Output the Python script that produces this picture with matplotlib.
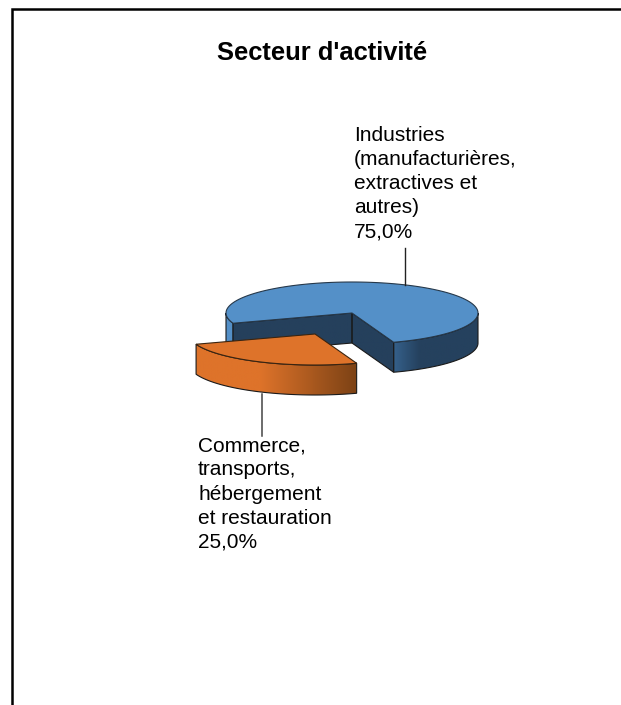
import matplotlib
matplotlib.use('Agg')
import matplotlib.pyplot as plt
from matplotlib.patches import Polygon
import numpy as np

plt.rcParams['font.family'] = ['Liberation Sans', 'DejaVu Sans']

title = "Secteur d'activité"
labels = ["Industries\n(manufacturières,\nextractives et\nautres)\n75,0%",
          "Commerce,\ntransports,\nhébergement\net restauration\n25,0%"]
shares = [75.0, 25.0]
colors = ['#5490C8', '#DE732A']

W, H = 621, 705
a, b, depth = 126, 31, 30
start = -70.7


def arc(cx, cy, t0, t1, dy=0):
    t = np.radians(np.linspace(t0, t1, 120))
    return np.column_stack([cx + a * np.cos(t), cy - b * np.sin(t) + dy])


def shaded(ax, pts, stops, cols, zorder):
    # horizontal gradient clipped to the polygon
    poly = Polygon(pts, closed=True, facecolor='none', edgecolor='#1a1a1a', lw=0.8, zorder=zorder + 0.1)
    ax.add_patch(poly)
    x0, x1 = pts[:, 0].min(), pts[:, 0].max()
    xs = np.linspace(0, 1, 256)
    rgb = np.array([matplotlib.colors.to_rgb(c) for c in cols])
    grad = np.stack([np.interp(xs, stops, rgb[:, i]) for i in range(3)], axis=-1)[None, :, :]
    im = ax.imshow(grad, extent=[x0, x1, pts[:, 1].max(), pts[:, 1].min()], aspect='auto', zorder=zorder)
    im.set_clip_path(poly)


def side(cx, cy, t0, t1):
    top = arc(cx, cy, t0, t1)
    return np.vstack([top, arc(cx, cy, t1, t0, depth)])


def inner(cx, cy, t):
    e = arc(cx, cy, t, t)[0]
    return np.array([[cx, cy], e, e + [0, depth], [cx, cy + depth]])


fig = plt.figure(figsize=(W / 100, H / 100), dpi=100)
ax = fig.add_axes([0, 0, 1, 1])

# frame of the chart, cut by the image at right and bottom
ax.plot([12, 12, 621], [705, 9, 9], color='black', lw=1.8, solid_joinstyle='miter', zorder=1)

ax.text(322, 53, title, fontsize=18.4, fontweight='bold', ha='center', va='center')

sweep = [s / sum(shares) * 360 for s in shares]
t_blue = start + sweep[0]   # blue runs counter-clockwise from start
cx, cy = 352, 313

# blue slice
shaded(ax, side(cx, cy, -180, t_blue - 360), [0, 1], [colors[0], colors[0]], 3)
shaded(ax, side(cx, cy, start, 0), [0, 0.3, 1], ['#35608A', '#25415E', '#25415E'], 3)
shaded(ax, inner(cx, cy, t_blue), [0, 1], ['#25405C', '#25405C'], 4)
shaded(ax, inner(cx, cy, start), [0, 1], ['#25405C', '#25405C'], 4)
top = np.vstack([[cx, cy], arc(cx, cy, start, t_blue)])
ax.add_patch(Polygon(top, closed=True, facecolor=colors[0], edgecolor='#26384a', lw=0.8, zorder=5))

# orange slice, pulled out towards the front left
ox, oy = 315, 334
t0, t1 = start - sweep[1], start
shaded(ax, side(ox, oy, t0, t1), [0, 0.4, 1], [colors[1], colors[1], '#7C4215'], 6)
top = np.vstack([[ox, oy], arc(ox, oy, t0, t1)])
ax.add_patch(Polygon(top, closed=True, facecolor=colors[1], edgecolor='#3a2410', lw=0.8, zorder=7))

# leader lines
ax.plot([405, 405], [248, 285], color='#222222', lw=1.0, zorder=8)
ax.plot([262, 262], [394, 436], color='#444444', lw=1.1, zorder=2)

ax.text(354, 183.5, labels[0], fontsize=15, ha='left', va='center', linespacing=1.335, zorder=9)
ax.text(198, 494, labels[1], fontsize=15, ha='left', va='center', linespacing=1.335, zorder=9)

ax.set_xlim(0, W)
ax.set_ylim(H, 0)
ax.axis('off')
fig.savefig('out.png', dpi=100, facecolor='white')
